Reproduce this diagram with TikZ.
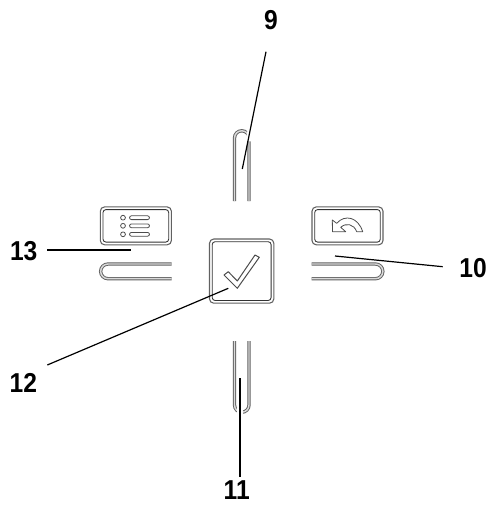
\documentclass[tikz,border=0pt]{standalone}
\usepackage{graphicx}
\usepackage{fontspec}
\setmainfont{Liberation Sans}
\definecolor{clipgray}{gray}{0.38}
\newcommand{\numtxt}[1]{\scalebox{.9}[1]{\bfseries\fontsize{20.5}{22}\selectfont #1}}
\tikzset{
  x=0.75pt,y=-0.75pt,
  numlabel/.style={inner sep=0pt},
  leader/.style={draw=black,line width=.9pt},
  leaderthick/.style={draw=black,line width=1.3pt},
  clip shape/.style={draw=clipgray,line width=.7pt,double=black!15,double distance=1.1pt,line cap=butt},
  button/.style={draw=clipgray,line width=.8pt,rounded corners=3.2pt},
  buttonin/.style={draw=black!80,line width=.65pt,rounded corners=2.2pt},
  icon/.style={draw=black!70,line width=.6pt,line join=round},
  halo/.style={draw=white,line width=4pt},
}
\begin{document}
\begin{tikzpicture}
\useasboundingbox (0,0) rectangle (487,514);
% clips
\draw[clip shape] (234.5,201) -- (234.5,138) arc[start angle=180,end angle=360,radius=7.25] -- (249,201);
\draw[clip shape] (234.5,341) -- (234.5,405) arc[start angle=180,end angle=0,radius=7.25] -- (249,341);
\draw[clip shape] (171.7,264) -- (108,264) arc[start angle=270,end angle=90,radius=7.35] -- (171.7,278.7);
\draw[clip shape] (311.7,264) -- (375.5,264) arc[start angle=270,end angle=450,radius=7.35] -- (311.7,278.7);
% buttons
\draw[button] (100.3,206.9) rectangle (171.4,244.8);
\draw[buttonin] (103,209.6) rectangle (168.7,242.1);
\draw[button] (312,206.9) rectangle (383,244.8);
\draw[buttonin] (314.7,209.6) rectangle (380.3,242.1);
\draw[button] (209.5,239) rectangle (273.8,303.2);
\draw[buttonin] (212.2,241.7) rectangle (271.1,300.5);
% list icon
\foreach \yy in {217.7,225.8,234.3}{
  \draw[icon] (123,\yy) circle[radius=2.4];
  \draw[icon,rounded corners=1.5pt] (129.5,\yy-1.9) rectangle (149.5,\yy+1.9);
}
% undo icon
\draw[icon] (332.3,220) -- (332.5,231.7) -- (345.7,231.7) -- (340.7,227.3)
  .. controls (346,222.5) and (354,224) .. (356.7,231.7)
  -- (362.7,231.7) .. controls (358,217) and (345,214) .. (336.7,223.3) -- cycle;
% check icon
\draw[icon,line width=.75pt] (224,275) -- (228.3,271.7) -- (237.3,281) -- (255,255) -- (259.3,257.3) -- (237.3,288.3) -- cycle;
% leaders
\coordinate (a9) at (266,51.7); \coordinate (b9) at (242.3,169);
\coordinate (a10) at (442.7,266.7); \coordinate (b10) at (335,256);
\coordinate (a11) at (240,476.7); \coordinate (b11) at (240,378.3);
\coordinate (a12) at (47.3,365); \coordinate (b12) at (228.3,288.3);
\coordinate (a13) at (47.3,250.3); \coordinate (b13) at (131,250.3);
\coordinate (h9a) at (250.3,130); \coordinate (h9b) at (248,141);
\coordinate (h11a) at (240,404); \coordinate (h11b) at (240,416);
\draw[halo] (h9a) -- (h9b);
\draw[halo] (h11a) -- (h11b);
\draw[leader] (a9) -- (b9);
\draw[leader] (a10) -- (b10);
\draw[leaderthick] (a11) -- (b11);
\draw[leader] (a12) -- (b12);
\draw[leaderthick] (a13) -- (b13);
% labels
\node[numlabel] (n9) at (271,20.3) {\numtxt{9}};
\node[numlabel] (n10) at (473,267.8) {\numtxt{10}};
\node[numlabel] (n11) at (236.7,489.8) {\numtxt{11}};
\node[numlabel] (n12) at (23.3,383) {\numtxt{12}};
\node[numlabel] (n13) at (23.7,250.7) {\numtxt{13}};
\end{tikzpicture}
\end{document}
